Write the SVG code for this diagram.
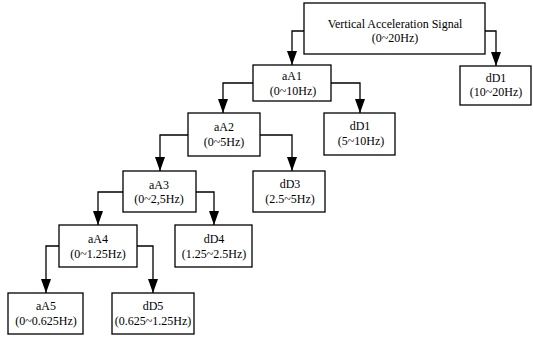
<svg xmlns="http://www.w3.org/2000/svg" width="533" height="337" viewBox="0 0 533 337">
<style>
.box{fill:#fff;stroke:#000;stroke-width:1.3}
.t{font-family:"Liberation Serif","Times New Roman",serif;font-size:12px;fill:#000;text-anchor:middle}
.c{fill:none;stroke:#000;stroke-width:1.3}
</style>
<defs>
<marker id="ah" markerUnits="userSpaceOnUse" markerWidth="14" markerHeight="10" refX="14" refY="5" orient="auto">
<path d="M0,0 L14,5 L0,10 Z" fill="#000"/>
</marker>
</defs>
<rect width="533" height="337" fill="#fff"/>
<g id="connectors">
<polyline class="c" points="304,31 292,31 292,65" marker-end="url(#ah)"/>
<polyline class="c" points="485,31 496,31 496,66" marker-end="url(#ah)"/>
<polyline class="c" points="253,83 223,83 223,113" marker-end="url(#ah)"/>
<polyline class="c" points="331,83 360,83 360,113" marker-end="url(#ah)"/>
<polyline class="c" points="188,135 160,135 160,171" marker-end="url(#ah)"/>
<polyline class="c" points="260,135 292,135 292,171" marker-end="url(#ah)"/>
<polyline class="c" points="123,192 98,192 98,225" marker-end="url(#ah)"/>
<polyline class="c" points="196,192 214,192 214,225" marker-end="url(#ah)"/>
<polyline class="c" points="59,246 46,246 46,293" marker-end="url(#ah)"/>
<polyline class="c" points="137,246 153,246 153,293" marker-end="url(#ah)"/>
</g>
<g id="top"><rect class="box" x="304" y="3" width="181" height="51"/><text class="t" x="395" y="28">Vertical Acceleration Signal</text><text class="t" x="395" y="42">(0~20Hz)</text></g>
<g id="aA1"><rect class="box" x="253" y="65" width="78" height="36"/><text class="t" x="292" y="80">aA1</text><text class="t" x="293" y="95">(0~10Hz)</text></g>
<g id="dD1a"><rect class="box" x="460" y="66" width="71" height="39"/><text class="t" x="496" y="82">dD1</text><text class="t" x="496" y="96">(10~20Hz)</text></g>
<g id="dD1b"><rect class="box" x="324" y="113" width="71" height="42"/><text class="t" x="360" y="130">dD1</text><text class="t" x="361" y="145">(5~10Hz)</text></g>
<g id="aA2"><rect class="box" x="188" y="113" width="72" height="43"/><text class="t" x="224" y="131">aA2</text><text class="t" x="224" y="146">(0~5Hz)</text></g>
<g id="dD3"><rect class="box" x="253" y="171" width="72" height="41"/><text class="t" x="290" y="188">dD3</text><text class="t" x="290" y="203">(2.5~5Hz)</text></g>
<g id="aA3"><rect class="box" x="123" y="171" width="73" height="41"/><text class="t" x="159" y="189">aA3</text><text class="t" x="159" y="203">(0~2,5Hz)</text></g>
<g id="dD4"><rect class="box" x="175" y="225" width="77" height="42"/><text class="t" x="214" y="243">dD4</text><text class="t" x="214" y="258">(1.25~2.5Hz)</text></g>
<g id="aA4"><rect class="box" x="59" y="225" width="78" height="42"/><text class="t" x="98" y="243">aA4</text><text class="t" x="98" y="258">(0~1.25Hz)</text></g>
<g id="aA5"><rect class="box" x="8" y="293" width="75" height="41"/><text class="t" x="46" y="310">aA5</text><text class="t" x="46" y="325">(0~0.625Hz)</text></g>
<g id="dD5"><rect class="box" x="112" y="293" width="82" height="41"/><text class="t" x="153" y="310">dD5</text><text class="t" x="153" y="325">(0.625~1.25Hz)</text></g>
</svg>
